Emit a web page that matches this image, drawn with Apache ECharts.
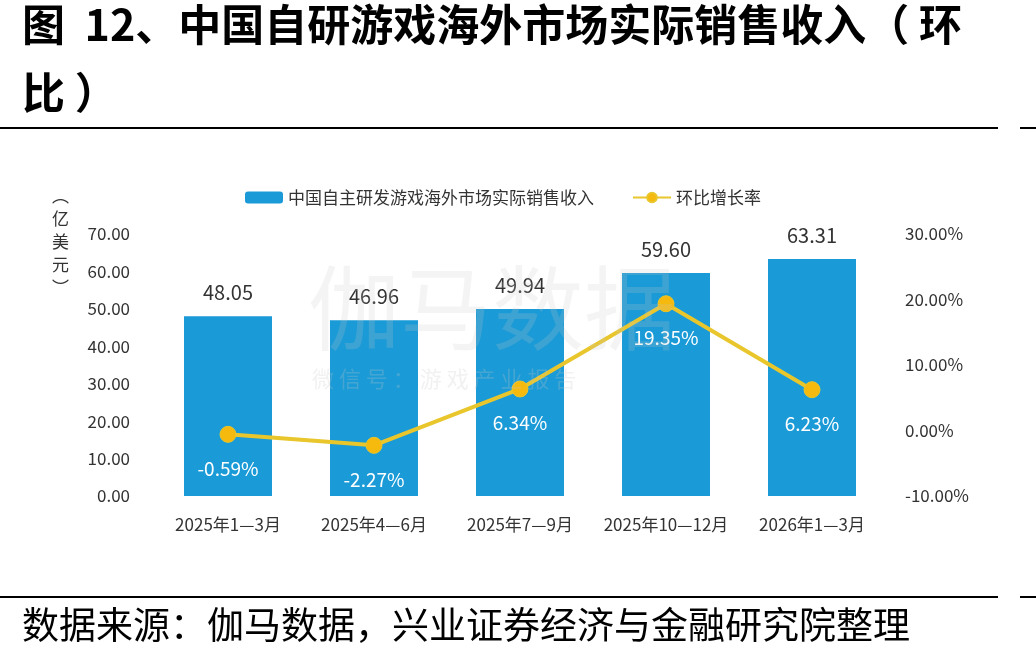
<!DOCTYPE html>
<html>
<head>
<meta charset="utf-8">
<script src="https://cdn.jsdelivr.net/npm/echarts@6/dist/echarts.min.js"></script>
<style>
  html, body { margin: 0; padding: 0; background: #fff; }
  #chart { width: 1036px; height: 661px; }
</style>
</head>
<body>
<div id="chart"></div>
<script>
const categories = ['2025年1—3月', '2025年4—6月', '2025年7—9月', '2025年10—12月', '2026年1—3月']
const revenue = [48.05, 46.96, 49.94, 59.60, 63.31]
const growth = [-0.59, -2.27, 6.34, 19.35, 6.23]

const font = '"Noto Sans CJK SC", "Noto Sans", sans-serif'
const chart = echarts.init(document.getElementById('chart'))

chart.setOption({
    backgroundColor: '#fff',
    animation: false,
    textStyle: { fontFamily: font },
    graphic: [
        {
            type: 'text', left: 22, top: -9,
            style: {
                text: '图  12、中国自研游戏海外市场实际销售收入（ 环\n比 ）',
                font: 'bold 43px ' + font, fill: '#000', lineHeight: 68,
            },
        },
        { type: 'line', shape: { x1: 0, y1: 128, x2: 998, y2: 128 }, style: { stroke: '#000', lineWidth: 2 } },
        { type: 'line', shape: { x1: 1020, y1: 128, x2: 1036, y2: 128 }, style: { stroke: '#000', lineWidth: 2 } },
        { type: 'line', shape: { x1: 0, y1: 597, x2: 998, y2: 597 }, style: { stroke: '#000', lineWidth: 2 } },
        { type: 'line', shape: { x1: 1020, y1: 597, x2: 1036, y2: 597 }, style: { stroke: '#000', lineWidth: 2 } },
        {
            type: 'text', left: 22, top: 606,
            style: { text: '数据来源：伽马数据，兴业证券经济与金融研究院整理', font: '37px ' + font, fill: '#000' },
        },
        {
            type: 'text', left: 52, top: 184,
            style: { text: '︵\n亿\n美\n元\n︶', font: '17px ' + font, fill: '#333', lineHeight: 23, align: 'center' },
        },
        // watermark
        {
            type: 'text', left: 308, top: 262, z: 20,
            style: { text: '伽马数据', font: '92px ' + font, fill: 'rgba(200,200,200,0.2)' },
        },
        {
            type: 'text', left: 312, top: 368, z: 20,
            style: { text: '微 信 号 ： 游 戏 产 业 报 告', font: '22px ' + font, fill: 'rgba(200,200,200,0.25)' },
        },
    ],
    legend: {
        left: 240, top: 184,
        itemWidth: 38, itemHeight: 12, itemGap: 38,
        textStyle: { fontSize: 17, color: '#333' },
        data: ['中国自主研发游戏海外市场实际销售收入', '环比增长率'],
    },
    grid: { left: 155, right: 151, top: 234, bottom: 165 },
    xAxis: {
        type: 'category',
        data: categories,
        axisLine: { show: false },
        axisTick: { show: false },
        axisLabel: { fontSize: 17, color: '#333', margin: 20, interval: 0 },
    },
    yAxis: [
        {
            type: 'value', min: 0, max: 70, interval: 10,
            splitLine: { show: false },
            axisLabel: { fontSize: 17, color: '#333', margin: 25, formatter: (v) => v.toFixed(2) },
        },
        {
            type: 'value', min: -10, max: 30, interval: 10,
            splitLine: { show: false },
            axisLabel: { fontSize: 17, color: '#333', margin: 20, formatter: (v) => v.toFixed(2) + '%' },
        },
    ],
    series: [
        {
            name: '中国自主研发游戏海外市场实际销售收入',
            type: 'bar',
            barWidth: 88,
            data: revenue,
            itemStyle: { color: '#1a9ad6' },
            label: {
                show: true, position: 'top', distance: 14,
                fontSize: 20, color: '#333',
                formatter: (p) => p.value.toFixed(2),
            },
        },
        {
            name: '环比增长率',
            type: 'line',
            yAxisIndex: 1,
            data: growth,
            symbol: 'circle',
            symbolSize: 16,
            lineStyle: { color: '#e8c62c', width: 4 },
            itemStyle: { color: '#f6b90e', borderColor: '#e8c62c', borderWidth: 1 },
            label: {
                show: true, position: 'bottom', distance: 16,
                fontSize: 19, color: '#fff',
                formatter: (p) => p.value.toFixed(2) + '%',
            },
            z: 10,
        },
    ],
})
</script>
</body>
</html>
